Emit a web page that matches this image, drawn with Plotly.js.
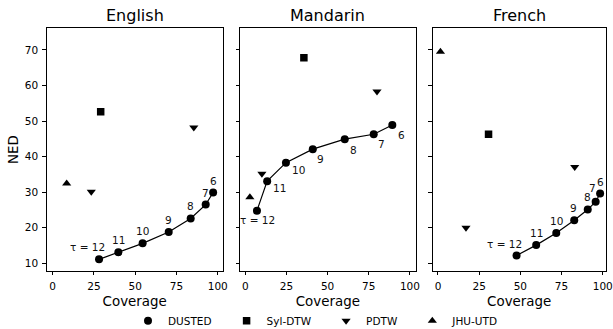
<!DOCTYPE html>
<html><head><meta charset="utf-8">
<script src="https://cdn.plot.ly/plotly-3.0.1.min.js"></script>
<style>html,body{margin:0;padding:0;background:#fff}</style>
</head><body>
<div id="chart" style="width:613px;height:329px"></div>
<script>
// ---- data ----
const panels = ["English", "Mandarin", "French"];
const methods = ["DUSTED", "Syl-DTW", "PDTW", "JHU-UTD"];
const tauLabels = ["τ = 12", "11", "10", "9", "8", "7", "6"];

const dustedEnX = [28.1, 39.8, 54.5, 70.3, 83.6, 92.7, 97.2];
const dustedEnY = [11.1, 13.1, 15.6, 18.8, 22.6, 26.5, 29.9];
const dustedZhX = [7.1, 13.3, 24.7, 41.0, 60.4, 78.0, 89.3];
const dustedZhY = [24.8, 33.1, 38.3, 42.1, 44.9, 46.3, 48.9];
const dustedFrX = [47.7, 59.6, 71.8, 82.7, 90.9, 95.7, 98.4];
const dustedFrY = [12.2, 15.1, 18.5, 22.1, 25.1, 27.3, 29.6];

const sylX = [29.1, 35.6, 30.7];
const sylY = [52.6, 67.8, 46.3];
const pdtwEnX = [85.5, 23.4];  const pdtwEnY = [48.2, 30.1];
const pdtwZhX = [80.0, 10.1];  const pdtwZhY = [58.3, 35.2];
const pdtwFrX = [83.0, 17.0];  const pdtwFrY = [37.1, 20.0];
const jhuX = [8.5, 2.8, 1.5];
const jhuY = [32.4, 28.6, 69.5];

const xTicks = [0, 25, 50, 75, 100];
const yTicks = [10, 20, 30, 40, 50, 60, 70];

// ---- styling / layout helpers ----
const FONT = "DejaVu Sans, sans-serif";
const PAD = "\u00a0\u00a0\u00a0";
const dustedX = [dustedEnX, dustedZhX, dustedFrX];
const dustedY = [dustedEnY, dustedZhY, dustedFrY];
const pdtwX = [pdtwEnX, pdtwZhX, pdtwFrX];
const pdtwY = [pdtwEnY, pdtwZhY, pdtwFrY];
const xDomains = [[46.7/613, 222.7/613], [240/613, 415.7/613], [432.7/613, 605.7/613]];
const xRanges = [[-3.6, 103.0], [-3.2, 103.5], [-3.2, 101.8]];
const yDomain = [1 - 270.7/329, 1 - 28.3/329];
// label offsets per panel (xshift, yshift, xanchor)
const labelOffsets = [
  [[-12,12,"center"],[0,12,"center"],[0,12,"center"],[0,12,"center"],[0,12,"center"],[0,12,"center"],[0,12,"center"]],
  [[1,-9.3,"center"],[4,-7.3,"left"],[4,-7.3,"left"],[2.5,-10,"left"],[3,-10.5,"left"],[2.5,-10,"left"],[3.5,-10,"left"]],
  [[-11.7,11.7,"center"],[0,12,"center"],[0,12,"center"],[-0.7,12,"center"],[-0.7,12.3,"center"],[-2.7,13.3,"center"],[0,11.7,"center"]]
];

const traces = [];
const annotations = [];
const layout = {
  width: 613, height: 329,
  margin: {l: 0, r: 0, t: 0, b: 0, autoexpand: false},
  paper_bgcolor: "#fff", plot_bgcolor: "#fff",
  font: {family: FONT, size: 10.5, color: "#000"},
  showlegend: true,
  legend: {orientation: "h", x: 128/613, xanchor: "left", y: 1 - 320.7/329, yanchor: "middle",
           bgcolor: "rgba(0,0,0,0)",
           font: {family: FONT, size: 10.5, color: "#000"}, traceorder: "normal"},
  hovermode: false
};

for (let p = 0; p < 3; p++) {
  const sfx = p === 0 ? "" : String(p + 1);
  const xa = "x" + sfx, ya = "y" + sfx;
  layout["xaxis" + sfx] = {
    domain: xDomains[p], range: xRanges[p], anchor: ya, automargin: false,
    tickmode: "array", tickvals: xTicks, ticktext: xTicks.map(String),
    ticks: "outside", ticklen: 3.5, tickwidth: 1, tickcolor: "#000", ticklabelstandoff: 2,
    showline: true, mirror: true, linecolor: "#000", linewidth: 1,
    showgrid: false, zeroline: false,
    tickfont: {family: FONT, size: 10.5, color: "#000"},
    title: {text: "Coverage", font: {family: FONT, size: 13.4, color: "#000"}, standoff: 5}
  };
  layout["yaxis" + sfx] = {
    domain: yDomain, range: [7.9, 76.1], anchor: xa, automargin: false,
    tickmode: "array", tickvals: yTicks, ticktext: yTicks.map(String),
    showticklabels: p === 0,
    ticks: "outside", ticklen: 3.5, tickwidth: 1, tickcolor: "#000", ticklabelstandoff: 2,
    showline: true, mirror: true, linecolor: "#000", linewidth: 1,
    showgrid: false, zeroline: false,
    tickfont: {family: FONT, size: 10.5, color: "#000"},
    title: p === 0 ? {text: "NED", font: {family: FONT, size: 13.4, color: "#000"}, standoff: 3} : {text: ""}
  };

  traces.push({x: dustedX[p], y: dustedY[p], xaxis: xa, yaxis: ya, mode: "lines",
               line: {color: "#000", width: 1.2}, showlegend: false});
  traces.push({x: dustedX[p], y: dustedY[p], xaxis: xa, yaxis: ya, mode: "markers", name: methods[0] + PAD,
               legendgroup: "d", showlegend: p === 0,
               marker: {symbol: "circle", size: 8, color: "#000"}});
  traces.push({x: [sylX[p]], y: [sylY[p]], xaxis: xa, yaxis: ya, mode: "markers", name: methods[1] + PAD,
               legendgroup: "s", showlegend: p === 0,
               marker: {symbol: "square", size: 7.5, color: "#000"}});
  traces.push({x: pdtwX[p], y: pdtwY[p], xaxis: xa, yaxis: ya, mode: "markers", name: methods[2] + PAD,
               legendgroup: "p", showlegend: p === 0,
               marker: {symbol: "triangle-down", size: 8, color: "#000"}});
  traces.push({x: [jhuX[p]], y: [jhuY[p]], xaxis: xa, yaxis: ya, mode: "markers", name: methods[3],
               legendgroup: "j", showlegend: p === 0,
               marker: {symbol: "triangle-up", size: 8, color: "#000"}});

  for (let i = 0; i < tauLabels.length; i++) {
    const o = labelOffsets[p][i];
    annotations.push({x: dustedX[p][i], y: dustedY[p][i], xref: xa, yref: ya, text: tauLabels[i],
      showarrow: false, xshift: o[0], yshift: o[1], xanchor: o[2], yanchor: "middle",
      font: {family: FONT, size: 10.5, color: "#111"}});
  }
  annotations.push({x: (xDomains[p][0] + xDomains[p][1]) / 2, y: 1 - 15/329, xref: "paper", yref: "paper",
    text: panels[p], showarrow: false, xanchor: "center", yanchor: "middle",
    font: {family: FONT, size: 16, color: "#000"}});
}
layout.annotations = annotations;

Plotly.newPlot("chart", traces, layout, {displayModeBar: false, staticPlot: true});
</script>
</body></html>
